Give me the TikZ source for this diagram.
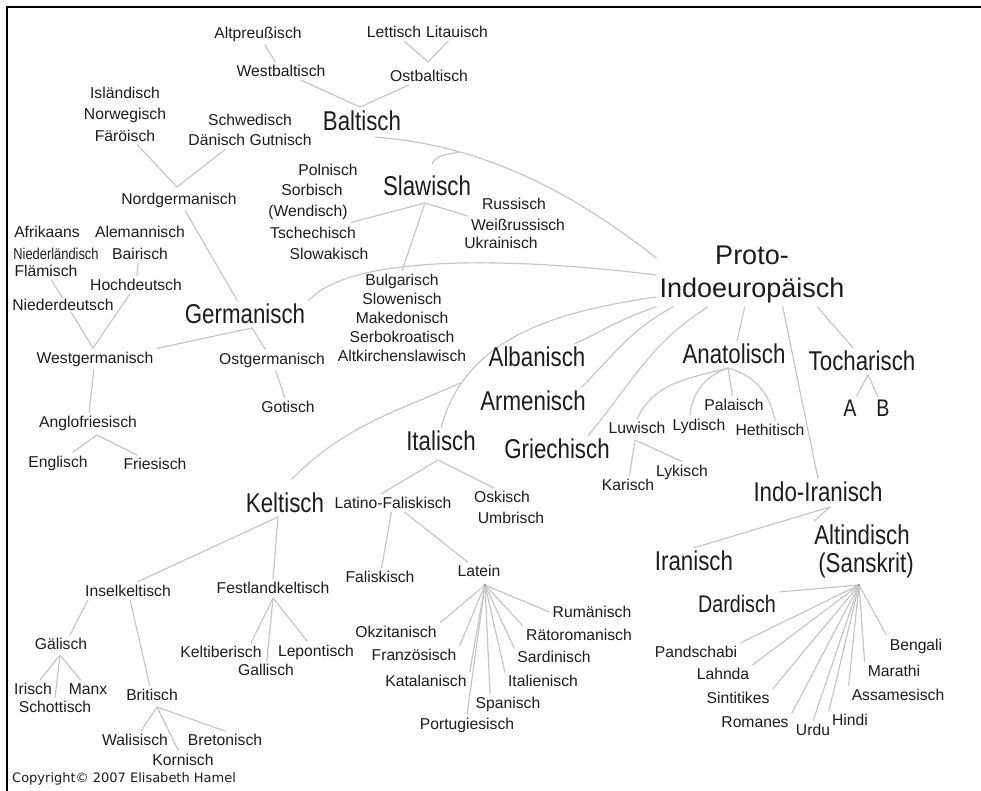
\documentclass[tikz,border=0pt]{standalone}
\usepackage{fontspec}
\setmainfont{Liberation Sans}
\newfontfamily\narrowfont[FakeStretch=0.82]{Liberation Sans}
\newfontfamily\copyfont{DejaVu Sans}
\usetikzlibrary{backgrounds}

\definecolor{ink}{RGB}{28,28,28}
\definecolor{twig}{RGB}{198,198,198}

\tikzset{
    lang/.style={text=ink, inner xsep=3pt, inner ysep=3pt, align=center,
        font=\fontsize{15.7}{21}\selectfont},
    branch/.style={text=ink, inner sep=3pt, align=center,
        font=\narrowfont\fontsize{27.2}{30}\selectfont},
    subbranch/.style={text=ink, inner sep=3pt,
        font=\narrowfont\fontsize{24}{28}\selectfont},
    root/.style={text=ink, inner sep=3pt, align=center,
        font=\fontsize{27}{33}\selectfont},
    link/.style={draw=twig, line width=1.2pt},
}

\begin{document}
\begin{tikzpicture}[x=1pt,y=1pt]

    \useasboundingbox (0,0) rectangle (981,-791);
    \draw[line width=2.6pt, black] (7,-791) -- (7,-7) -- (981,-7);

    \node[root] (proto) at (752,-275) {Proto-\\Indoeuropäisch};

    \node[lang] (altp) at (258,-34) {Altpreußisch};
    \node[lang] (westb) at (281,-71) {Westbaltisch};
    \node[lang] (lett) at (394,-32) {Lettisch};
    \node[lang] (lit) at (457,-32) {Litauisch};
    \node[lang] (ostb) at (429,-76) {Ostbaltisch};
    \node[branch] (balt) at (362,-121) {Baltisch};

    \node[branch] (slaw) at (427,-186) {Slawisch};
    \node[lang] (poln) at (328,-170) {Polnisch};
    \node[lang] (sorb) at (312,-190) {Sorbisch};
    \node[lang] (wend) at (308,-212) {(Wendisch)};
    \node[lang] (tsch) at (313,-233) {Tschechisch};
    \node[lang] (slowak) at (329,-254) {Slowakisch};
    \node[lang] (russ) at (514,-204) {Russisch};
    \node[lang] (weiss) at (518,-225) {Weißrussisch};
    \node[lang] (ukr) at (501,-243) {Ukrainisch};
    \node[lang, font=\fontsize{15.7}{19}\selectfont] (sslav) at (402,-318)
        {Bulgarisch\\Slowenisch\\Makedonisch\\Serbokroatisch\\Altkirchenslawisch};

    \node[lang, font=\fontsize{15.7}{21.5}\selectfont] (norse) at (125,-114)
        {Isländisch\\Norwegisch\\Färöisch};
    \node[lang, font=\fontsize{15.7}{20}\selectfont] (schwd) at (250,-130)
        {Schwedisch\\Dänisch Gutnisch};
    \node[lang] (nordg) at (179,-200) {Nordgermanisch};
    \node[lang] (afri) at (47,-232) {Afrikaans};
    \node[lang, font=\narrowfont\fontsize{15.7}{21}\selectfont] (nieder) at (56,-254) {Niederländisch};
    \node[lang] (flaem) at (46,-271) {Flämisch};
    \node[lang, font=\fontsize{15.7}{22}\selectfont] (alem) at (140,-243) {Alemannisch\\Bairisch};
    \node[lang] (hoch) at (136,-285) {Hochdeutsch};
    \node[lang, fill=white, inner sep=1pt] (niederd) at (63,-305) {Niederdeutsch};
    \node[branch] (germ) at (245,-314) {Germanisch};
    \node[lang] (westg) at (95,-359) {Westgermanisch};
    \node[lang] (ostg) at (272,-360) {Ostgermanisch};
    \node[lang] (got) at (288,-407) {Gotisch};
    \node[lang] (anglo) at (88,-423) {Anglofriesisch};
    \node[lang] (engl) at (58,-463) {Englisch};
    \node[lang] (fries) at (155,-464) {Friesisch};

    \node[branch] (alban) at (537,-357) {Albanisch};
    \node[branch] (armen) at (533,-401) {Armenisch};
    \node[branch] (griech) at (557,-449) {Griechisch};

    \node[branch] (italisch) at (441,-441) {Italisch};
    \node[lang] (latfal) at (393,-503) {Latino-Faliskisch};
    \node[lang] (osk) at (502,-497) {Oskisch};
    \node[lang] (umbr) at (511,-518) {Umbrisch};
    \node[lang] (falis) at (380,-577) {Faliskisch};
    \node[lang] (latein) at (479,-571) {Latein};
    \node[lang] (rum) at (592,-612) {Rumänisch};
    \node[lang] (raeto) at (579,-635) {Rätoromanisch};
    \node[lang] (sard) at (554,-657) {Sardinisch};
    \node[lang] (ital) at (543,-681) {Italienisch};
    \node[lang] (span) at (508,-704) {Spanisch};
    \node[lang] (port) at (467,-725) {Portugiesisch};
    \node[lang] (katal) at (426,-681) {Katalanisch};
    \node[lang] (franz) at (414,-655) {Französisch};
    \node[lang] (okz) at (396,-632) {Okzitanisch};

    \node[branch] (keltisch) at (285,-503) {Keltisch};
    \node[lang] (insel) at (128,-591) {Inselkeltisch};
    \node[lang] (festl) at (273,-588) {Festlandkeltisch};
    \node[lang] (gael) at (61,-644) {Gälisch};
    \node[lang] (irisch) at (33,-689) {Irisch};
    \node[lang] (manx) at (88,-689) {Manx};
    \node[lang] (schott) at (55,-707) {Schottisch};
    \node[lang] (brit) at (152,-695) {Britisch};
    \node[lang] (wal) at (135,-740) {Walisisch};
    \node[lang] (breton) at (225,-740) {Bretonisch};
    \node[lang] (korn) at (183,-760) {Kornisch};
    \node[lang] (keltib) at (221,-652) {Keltiberisch};
    \node[lang] (gall) at (266,-670) {Gallisch};
    \node[lang] (lepont) at (316,-652) {Lepontisch};

    \node[branch] (anat) at (734,-354) {Anatolisch};
    \node[lang] (palai) at (734,-405) {Palaisch};
    \node[lang] (luw) at (637,-428) {Luwisch};
    \node[lang] (lyd) at (699,-426) {Lydisch};
    \node[lang] (heth) at (770,-430) {Hethitisch};
    \node[lang] (lyk) at (682,-472) {Lykisch};
    \node[lang] (karisch) at (628,-485) {Karisch};

    \node[branch] (toch) at (862,-361) {Tocharisch};
    \node[subbranch] (tA) at (850,-408) {A};
    \node[subbranch] (tB) at (883,-408) {B};

    \node[branch] (indoir) at (818,-492) {Indo-Iranisch};
    \node[branch] (iran) at (694,-561) {Iranisch};
    \node[branch, inner sep=0pt] (altind) at (862,-535) {Altindisch};
    \node[branch, inner sep=0pt] (sansk) at (866,-565) {(Sanskrit)};
    \node[subbranch] (dard) at (737,-604) {Dardisch};
    \node[lang] (pand) at (696,-652) {Pandschabi};
    \node[lang] (lahnda) at (723,-674) {Lahnda};
    \node[lang] (sinti) at (738,-698) {Sintitikes};
    \node[lang] (roman) at (755,-722) {Romanes};
    \node[lang] (urdu) at (813,-730) {Urdu};
    \node[lang] (hindi) at (850,-720) {Hindi};
    \node[lang] (assam) at (898,-695) {Assamesisch};
    \node[lang] (marathi) at (894,-671) {Marathi};
    \node[lang] (bengali) at (916,-646) {Bengali};

    \node[lang, anchor=west, font=\copyfont\fontsize{13}{15}\selectfont] (copy) at (9,-779)
        {Copyright© 2007 Elisabeth Hamel};

    \coordinate (jlett) at (428,-62);
    \coordinate (jbalt) at (360,-107);
    \coordinate (jslaw) at (425,-203);
    \coordinate (jnord) at (177,-187);
    \coordinate (jwest) at (93,-348);
    \coordinate (jgerm) at (252,-328);
    \coordinate (janglo) at (97,-435);
    \coordinate (jital) at (438,-460);
    \coordinate (jlat) at (485,-585);
    \coordinate (jkelt) at (278,-517);
    \coordinate (jgael) at (60,-655);
    \coordinate (jbrit) at (157,-707);
    \coordinate (jfest) at (273,-598);
    \coordinate (janat) at (728,-368);
    \coordinate (jluw) at (635,-440);
    \coordinate (jtoch) at (868,-375);
    \coordinate (jii) at (830,-507);
    \coordinate (jskt) at (859,-585);

    \begin{scope}[on background layer]
      \draw[link] (altp) to (westb);
      \draw[link] (westb) to (jbalt);
      \draw[link] (ostb) to (jbalt);
      \draw[link] (lett) to (jlett);
      \draw[link] (lit) to (jlett);
      \draw[link] ([xshift=13pt,yshift=-3pt]balt.south)
          to[out=-4, in=142, out distance=120, in distance=89] coordinate[pos=0.25] (jbs) (proto.170);
      \draw[link] (jbs) to[out=196, in=62] ([xshift=5pt,yshift=9pt]slaw.north);
      \draw[link] (jslaw) to (wend.south east);
      \draw[link] (jslaw) to (weiss.north west);
      \draw[link] (jslaw) to (sslav.north);

      \draw[link] ([xshift=12pt]norse.south) to (jnord);
      \draw[link] (schwd) to (jnord);
      \draw[link] (nordg) to (germ);
      \draw[link] (flaem) to (jwest);
      \draw[link] (alem) to (hoch);
      \draw[link] (hoch) to (jwest);
      \draw[link] (jgerm) to (westg.north east);
      \draw[link] (jgerm) to (ostg);
      \draw[link] (ostg) to (got);
      \draw[link] (westg) to (anglo);
      \draw[link] (janglo) to (engl);
      \draw[link] (janglo) to (fries);
      \draw[link] (germ.north east)
          to[out=48, in=173, out distance=64, in distance=143] (proto.west);

      \draw[link] (italisch.north)
          to[out=75, in=188, out distance=90, in distance=110] coordinate[pos=0.2] (jitk) (proto.193);
      \draw[link] ([xshift=6pt,yshift=10pt]keltisch.north) to[out=45, in=204] (jitk);
      \draw[link] ([xshift=-14pt]alban.north east) to[out=25, in=198] (proto.south west);
      \draw[link] ([xshift=-8pt]armen.north east) to[out=45, in=208] (proto.202);
      \draw[link] ([xshift=-25pt]griech.north east) to[out=50, in=212] (proto.216);

      \draw[link] (jital) to ([xshift=-12pt]latfal.north);
      \draw[link] (jital) to ([xshift=-8pt]osk.north);
      \draw[link] (latfal) to (falis);
      \draw[link] (latfal) to (latein);
      \draw[link] (jlat) to (rum.west);
      \draw[link] (jlat) to (raeto.north west);
      \draw[link] (jlat) to (sard.north west);
      \draw[link] (jlat) to (ital.north west);
      \draw[link] (jlat) to ([xshift=-18pt]span.north);
      \draw[link] (jlat) to (port.north);
      \draw[link] (jlat) to (katal.north east);
      \draw[link] (jlat) to (franz.north east);
      \draw[link] (jlat) to (okz.north east);

      \draw[link] (jkelt) to ([xshift=9pt]insel.north);
      \draw[link] (jkelt) to (festl.north);
      \draw[link] ([xshift=-40pt]insel.south) to ([xshift=9pt]gael.north);
      \draw[link] (insel) to (brit);
      \draw[link] (jgael) to (irisch);
      \draw[link] (jgael) to (schott.north);
      \draw[link] (jgael) to (manx);
      \draw[link] (jbrit) to (wal);
      \draw[link] (jbrit) to (korn);
      \draw[link] (jbrit) to (breton.north);
      \draw[link] (jfest) to ([xshift=30pt]keltib.north);
      \draw[link] (jfest) to (gall);
      \draw[link] (jfest) to (lepont);

      \draw[link] (proto) to (anat);
      \draw[link] (janat) to (palai);
      \draw[link] (janat) to[out=195, in=65] (luw.north);
      \draw[link] (janat) to[out=200, in=85] ([xshift=-9pt]lyd.north);
      \draw[link] (janat) to[out=-15, in=100] ([xshift=5pt]heth.north);
      \draw[link] (jluw) to (karisch);
      \draw[link] (jluw) to (lyk.north);

      \draw[link] (proto.-26) to ([xshift=-9pt]toch.north);
      \draw[link] (jtoch) to (tA);
      \draw[link] (jtoch) to (tB);

      \draw[link] (proto.-46) to (indoir.north);
      \draw[link] (jii) to (iran.north);
      \draw[link] (jii) to ([yshift=4pt]altind.north west);
      \draw[link] (jskt) to (dard.north east);
      \draw[link] (jskt) to (pand.north east);
      \draw[link] (jskt) to (lahnda.north east);
      \draw[link] (jskt) to (sinti.north east);
      \draw[link] (jskt) to (roman.north east);
      \draw[link] (jskt) to (urdu.north);
      \draw[link] (jskt) to (hindi.north west);
      \draw[link] (jskt) to (assam.north west);
      \draw[link] (jskt) to (marathi.north west);
      \draw[link] (jskt) to (bengali.north west);
    \end{scope}

    \fill[ink!70] (jlat) circle (0.9pt);
    \fill[ink!70] (jskt) circle (0.9pt);

\end{tikzpicture}
\end{document}
